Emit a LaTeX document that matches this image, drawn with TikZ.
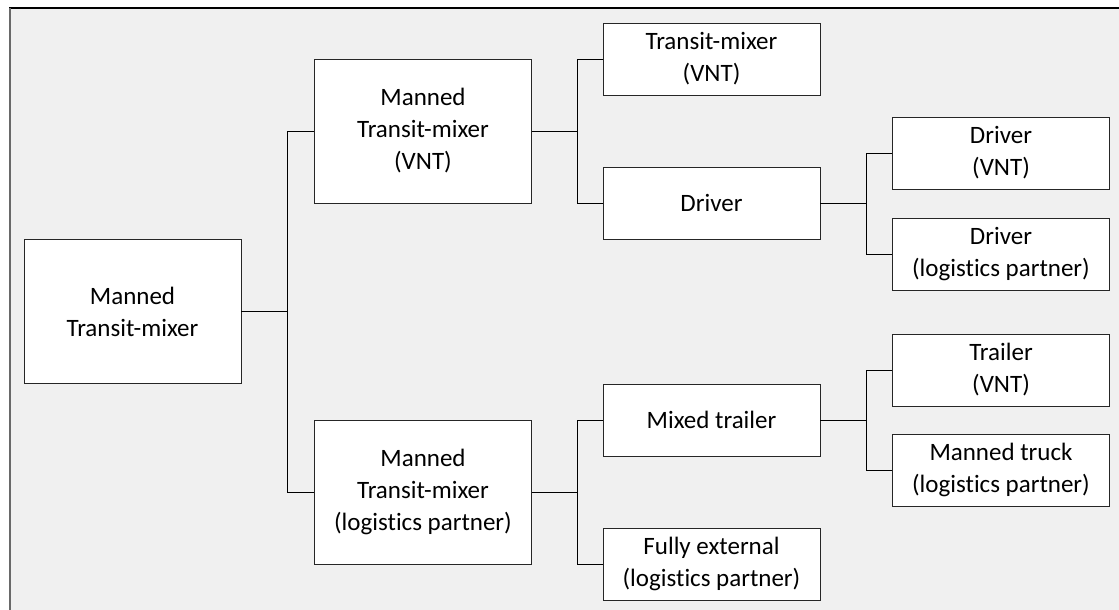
\documentclass[tikz,border=0pt]{standalone}
\usepackage{fontspec}
\setmainfont[Ligatures=NoCommon]{Carlito}
\definecolor{canvas}{RGB}{240,240,240}
\definecolor{edgegray}{RGB}{105,105,105}
\begin{document}
\begin{tikzpicture}[x=1pt,y=-1pt,
  box/.style={draw=black!85, line width=0.9pt, fill=white, align=center,
    inner sep=0pt, font=\fontsize{25}{32}\selectfont},
  bigbox/.style={box, minimum width=217pt, minimum height=144pt},
  smallbox/.style={box, minimum width=217pt, minimum height=72pt},
  link/.style={draw=black, line width=0.9pt}]
  \useasboundingbox (0,0) rectangle (1119,610);

  % canvas with its frame
  \fill[canvas] (10,8) rectangle (1119,610);
  \draw[line width=1.4pt, black] (9,8) -- (1119,8);
  \draw[line width=2pt, edgegray] (10,8) -- (10,610);

  % level 1
  \node[bigbox] (root) at (132.5,311.5) {Manned\\Transit-mixer};

  % level 2
  \node[bigbox] (vnt) at (423,131) {Manned\\Transit-mixer\\(VNT)};
  \node[bigbox] (lp)  at (423,492) {Manned\\Transit-mixer\\(logistics partner)};

  % level 3
  \node[smallbox] (tm)    at (711.5,59)  {Transit-mixer\\(VNT)};
  \node[smallbox] (drv)   at (711.5,203) {Driver};
  \node[smallbox] (mixed) at (711.5,420) {Mixed trailer};
  \node[smallbox] (ext)   at (711.5,564) {Fully external\\(logistics partner)};

  % level 4
  \node[smallbox] (drvvnt) at (1001,153) {Driver\\(VNT)};
  \node[smallbox] (drvlp)  at (1001,254) {Driver\\(logistics partner)};
  \node[smallbox] (trl)    at (1001,370) {Trailer\\(VNT)};
  \node[smallbox] (truck)  at (1001,470) {Manned truck\\(logistics partner)};

  % elbow connectors through a vertical bus
  \coordinate (b1) at (287,311.5);
  \coordinate (b2) at (577,131);
  \coordinate (b3) at (577,492);
  \coordinate (b4) at (866,203);
  \coordinate (b5) at (866,420);

  \draw[link] (root.east) -- (b1);
  \draw[link] (b1) |- (vnt.west);
  \draw[link] (b1) |- (lp.west);

  \draw[link] (vnt.east) -- (b2);
  \draw[link] (b2) |- (tm.west);
  \draw[link] (b2) |- (drv.west);

  \draw[link] (lp.east) -- (b3);
  \draw[link] (b3) |- (mixed.west);
  \draw[link] (b3) |- (ext.west);

  \draw[link] (drv.east) -- (b4);
  \draw[link] (b4) |- (drvvnt.west);
  \draw[link] (b4) |- (drvlp.west);

  \draw[link] (mixed.east) -- (b5);
  \draw[link] (b5) |- (trl.west);
  \draw[link] (b5) |- (truck.west);
\end{tikzpicture}
\end{document}
